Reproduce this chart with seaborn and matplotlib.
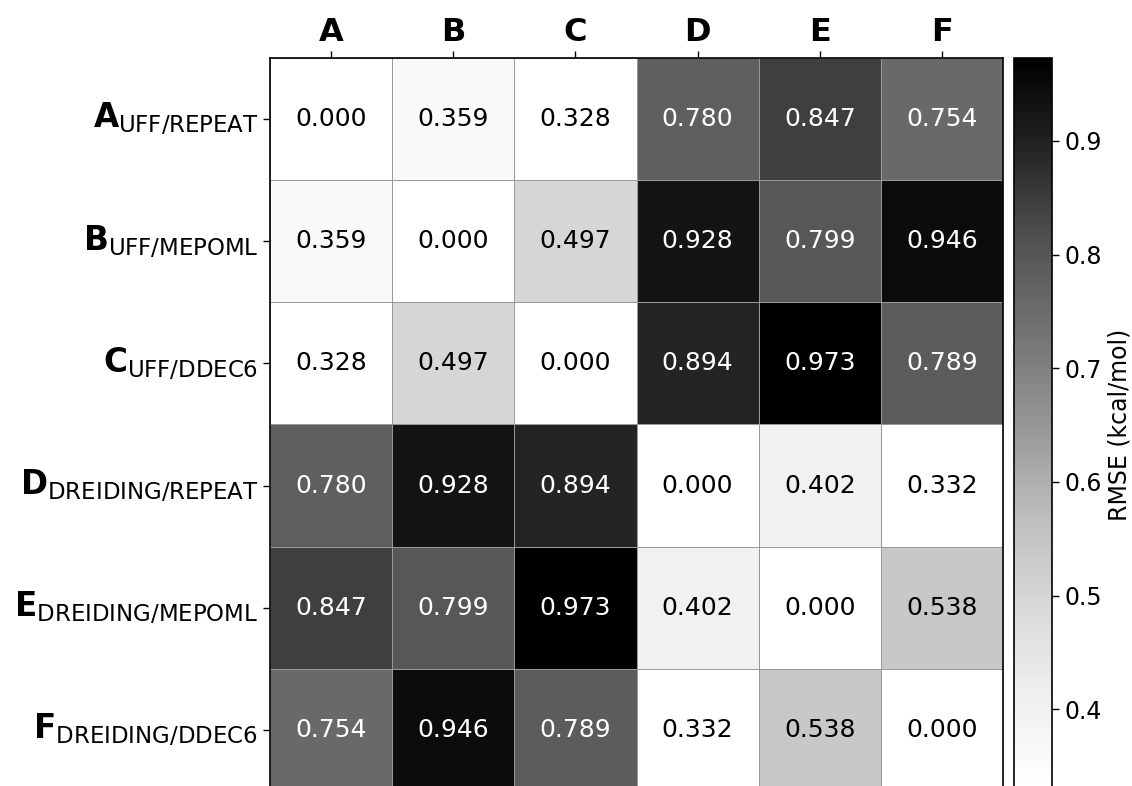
import numpy as np
import pandas as pd
import matplotlib
matplotlib.use("Agg")
import matplotlib.pyplot as plt
import seaborn as sns

# Pairwise RMSE (kcal/mol) between force-field / charge-scheme combinations
col_labels = ["A", "B", "C", "D", "E", "F"]
row_letters = ["A", "B", "C", "D", "E", "F"]
row_methods = ["UFF/REPEAT", "UFF/MEPOML", "UFF/DDEC6",
               "DREIDING/REPEAT", "DREIDING/MEPOML", "DREIDING/DDEC6"]

rmse_A = [0.000, 0.359, 0.328, 0.780, 0.847, 0.754]
rmse_B = [0.359, 0.000, 0.497, 0.928, 0.799, 0.946]
rmse_C = [0.328, 0.497, 0.000, 0.894, 0.973, 0.789]
rmse_D = [0.780, 0.928, 0.894, 0.000, 0.402, 0.332]
rmse_E = [0.847, 0.799, 0.973, 0.402, 0.000, 0.538]
rmse_F = [0.754, 0.946, 0.789, 0.332, 0.538, 0.000]

sns.set_style("white")
plt.rcParams["font.family"] = ["DejaVu Sans"]
plt.rcParams["mathtext.fontset"] = "dejavusans"
for key in ["text.color", "axes.labelcolor", "xtick.color", "ytick.color"]:
    plt.rcParams[key] = "black"

row_labels = [rf"$\mathbf{{{l}}}_{{\mathrm{{{m}}}}}$" for l, m in zip(row_letters, row_methods)]
matrix = pd.DataFrame([rmse_A, rmse_B, rmse_C, rmse_D, rmse_E, rmse_F],
                      index=row_labels, columns=col_labels)

off_diag = matrix.values[~np.eye(len(col_labels), dtype=bool)]
vmin, vmax = off_diag.min(), off_diag.max()

W, H = 1132, 786
fig = plt.figure(figsize=(W / 100, H / 100), dpi=100)
top_px, bottom_px = 58, 791
ax = fig.add_axes([270 / W, 1 - bottom_px / H, (1003 - 270) / W, (bottom_px - top_px) / H])
cax = fig.add_axes([1014 / W, 1 - bottom_px / H, (1052 - 1014) / W, (bottom_px - top_px) / H])

sns.heatmap(matrix, ax=ax, cbar_ax=cax, cmap="Greys", vmin=vmin, vmax=vmax,
            annot=True, fmt=".3f", annot_kws={"fontsize": 18},
            linewidths=0.4, linecolor="#999999",
            cbar_kws={"label": "RMSE (kcal/mol)"})

# dark text on light cells in pure black
for t in ax.texts:
    if t.get_color() != "w":
        t.set_color("black")

ax.xaxis.tick_top()
ax.set_xlabel("")
ax.set_ylabel("")
ax.tick_params(axis="x", top=True, bottom=False, length=5, width=1, pad=2,
               labelsize=23)
ax.tick_params(axis="y", left=True, length=5, width=1, labelsize=23.5, rotation=0)
for lbl in ax.get_xticklabels():
    lbl.set_fontweight("bold")
for side in ["left", "right", "top", "bottom"]:
    ax.spines[side].set_visible(True)
    ax.spines[side].set_color("black")
    ax.spines[side].set_linewidth(1.2)

cax.tick_params(labelsize=17, length=5, width=1, pad=4)
cax.set_yticks([0.4, 0.5, 0.6, 0.7, 0.8, 0.9])
cax.yaxis.label.set_size(17)
cbar = ax.collections[0].colorbar
cbar.outline.set_edgecolor("black")
cbar.outline.set_linewidth(1.2)

fig.savefig("out.png", dpi=100)
